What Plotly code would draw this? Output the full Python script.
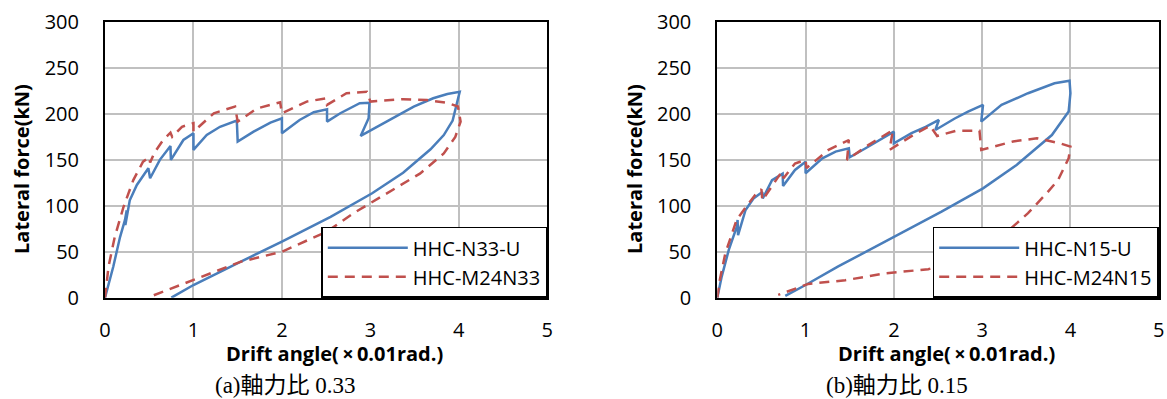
import plotly.graph_objects as go

# ---------------- data ----------------
# (a) axial force ratio 0.33
n33_x = [0, 0.094, 0.17, 0.226, 0.245, 0.23, 0.28, 0.36, 0.49, 0.51, 0.62, 0.74, 0.745, 0.886, 1.0, 1.0,
         1.15, 1.30, 1.49, 1.50, 1.68, 1.87, 2.0, 2.0, 2.2, 2.36, 2.51, 2.51, 2.66, 2.88, 2.99, 2.98, 2.89,
         3.19, 3.49, 3.71, 3.87, 4.01, 3.97, 3.93, 3.83, 3.68, 3.37, 3.02, 2.55, 2.0, 1.53, 1.0, 0.75]
n33_y = [0, 34, 66, 84.6, 95, 79, 106, 122.7, 140.8, 130, 150, 165, 150, 171.6, 179, 160.8,
         177, 186, 192.7, 169.8, 180.7, 190.5, 195.3, 179, 193.4, 201.8, 205, 191.6, 200.7, 211.6, 212, 195.3, 176,
         191.6, 208, 217, 221.7, 224, 208, 192.7, 177, 161.5, 136, 113.6, 88, 61, 39, 13.8, 0]

m24n33_x = [0, 0.04, 0.11, 0.21, 0.32, 0.43, 0.50, 0.51, 0.56, 0.66, 0.74, 0.76, 0.87, 1.0, 1.0, 1.23, 1.47, 1.50,
            1.72, 1.98, 2.0, 2.28, 2.50, 2.51, 2.73, 2.96, 3.0, 3.37, 3.64, 3.87, 3.99, 4.02, 3.96, 3.83,
            3.56, 3.19, 2.81, 2.51, 2.0, 1.53, 1.0, 0.48]
m24n33_y = [0, 34, 66, 99, 128, 148, 153, 147, 158, 172, 179.6, 175, 186, 190, 180.7, 200.7, 208, 191.6,
            206, 212.7, 200.7, 213.4, 217, 209.8, 222.5, 224, 213.4, 216, 215, 212, 208, 191.6, 175, 157,
            135, 113.6, 92, 72, 50, 39, 19, 0]

# (b) axial force ratio 0.15
n15_x = [0, 0.05, 0.13, 0.22, 0.23, 0.235, 0.32, 0.41, 0.51, 0.515, 0.62, 0.74, 0.745, 0.88, 1.0, 1.0,
         1.19, 1.34, 1.49, 1.50, 1.68, 1.87, 2.0, 2.0, 2.2, 2.36, 2.51, 2.47, 2.69, 2.84, 3.01, 2.99,
         3.22, 3.52, 3.82, 3.99, 4.0, 3.98, 3.79, 3.39, 3.01, 2.54, 1.90, 1.37, 1.0, 0.77]
n15_y = [0, 23, 52, 77, 84.6, 68, 95.5, 108, 115, 108, 128, 135, 121.6, 139, 148, 135.4,
         151.7, 159, 162.6, 152.8, 162.6, 173.5, 180.7, 168, 179, 186, 193.4, 182.5, 195, 202.5, 209.8, 191.6,
         209.8, 222.5, 233.4, 236, 222.5, 202.5, 177, 144.4, 119, 93.6, 61, 34, 13.8, 2]

m24n15_x = [0, 0.03, 0.09, 0.22, 0.30, 0.43, 0.50, 0.51, 0.73, 0.75, 0.88, 1.0, 1.01, 1.26, 1.49, 1.47,
            1.71, 1.99, 1.95, 2.22, 2.41, 2.49, 2.71, 2.97, 2.99, 3.35, 3.62, 3.88, 4.0, 3.98, 3.86,
            3.73, 3.52, 3.22, 2.8, 2.39, 1.90, 1.45, 1.03, 0.69]
m24n15_y = [0, 20, 48, 85, 95.5, 112, 118, 106, 137, 130, 146, 150, 141, 160.8, 171.6, 150,
            166, 182.5, 160.8, 177, 187, 176, 181.8, 181.8, 160.8, 170, 173.5, 168, 164.4, 151.7, 128,
            113.6, 92, 66.4, 42, 31, 26.5, 19, 15, 3]

x_ticks = [0, 1, 2, 3, 4, 5]
y_ticks = [0, 50, 100, 150, 200, 250, 300]
legend_a = ["HHC-N33-U", "HHC-M24N33"]
legend_b = ["HHC-N15-U", "HHC-M24N15"]
captions = ["(a)軸力比 0.33", "(b)軸力比 0.15"]
x_title = "Drift angle(\u2009×\u20090.01rad.)"
y_title = "Lateral force(kN)"

# ---------------- styling ----------------
W, H = 1167, 399
BLUE = "#4A7EBB"
RED = "#C0504D"
FONT = "Open Sans"
dom_y = [1 - 297.7 / H, 1 - 22 / H]
dom_x1 = [105 / W, 547.3 / W]
dom_x2 = [717.3 / W, 1158.7 / W]

fig = go.Figure()
fig.add_trace(go.Scatter(x=n33_x, y=n33_y, mode="lines", name=legend_a[0],
                         line=dict(color=BLUE, width=2.5), xaxis="x", yaxis="y", legend="legend"))
fig.add_trace(go.Scatter(x=m24n33_x, y=m24n33_y, mode="lines", name=legend_a[1],
                         line=dict(color=RED, width=2.5, dash="10px,7px"), xaxis="x", yaxis="y", legend="legend"))
fig.add_trace(go.Scatter(x=n15_x, y=n15_y, mode="lines", name=legend_b[0],
                         line=dict(color=BLUE, width=2.5), xaxis="x2", yaxis="y2", legend="legend2"))
fig.add_trace(go.Scatter(x=m24n15_x, y=m24n15_y, mode="lines", name=legend_b[1],
                         line=dict(color=RED, width=2.5, dash="10px,7px"), xaxis="x2", yaxis="y2", legend="legend2"))

axis_common = dict(showgrid=True, gridcolor="#C0C0C0", gridwidth=1.5, zeroline=False,
                   showline=True, linecolor="black", linewidth=2, mirror=True, automargin=False,
                   ticks="", tickfont=dict(family=FONT, size=20, color="black"))

leg_common = dict(y=dom_y[0], xanchor="right", yanchor="bottom", bgcolor="white",
                  bordercolor="black", borderwidth=1.5, itemwidth=80, tracegroupgap=0,
                  font=dict(family=FONT, size=20, color="black"))

fig.update_layout(
    width=W, height=H, margin=dict(l=0, r=0, t=0, b=0, autoexpand=False),
    paper_bgcolor="white", plot_bgcolor="white",
    font=dict(family=FONT, color="black"),
    xaxis=dict(domain=dom_x1, range=[0, 5], tickvals=x_ticks, anchor="y", ticklabelstandoff=13, **axis_common),
    yaxis=dict(domain=dom_y, range=[0, 300], tickvals=y_ticks, anchor="x", ticklabelstandoff=20, **axis_common),
    xaxis2=dict(domain=dom_x2, range=[0, 5], tickvals=x_ticks, anchor="y2", ticklabelstandoff=13, **axis_common),
    yaxis2=dict(domain=dom_y, range=[0, 300], tickvals=y_ticks, anchor="x2", ticklabelstandoff=20, **axis_common),
    legend=dict(x=dom_x1[1], **leg_common),
    legend2=dict(x=dom_x2[1], **leg_common),
    showlegend=True,
)

ann = []
for dom, ytx, cap_x, cap in [(dom_x1, 22, 285, captions[0]), (dom_x2, 635, 897, captions[1])]:
    cx = (dom[0] + dom[1]) / 2
    ann.append(dict(text=f"<b>{x_title}</b>", x=cx + 8 / W, y=1 - 353 / H, xref="paper", yref="paper",
                    showarrow=False, xanchor="center", yanchor="middle",
                    font=dict(family=FONT, size=20, color="black")))
    ann.append(dict(text=f"<b>{y_title}</b>", x=ytx / W, y=1 - 169 / H, xref="paper", yref="paper",
                    showarrow=False, textangle=-90, xanchor="center", yanchor="middle",
                    font=dict(family=FONT, size=20, color="black")))
    ann.append(dict(text=cap, x=cap_x / W, y=1 - 385 / H, xref="paper", yref="paper",
                    showarrow=False, xanchor="center", yanchor="middle",
                    font=dict(family="Liberation Serif, Noto Sans CJK JP", size=23, color="black")))
fig.update_layout(annotations=ann)

fig.write_html("out.html")
